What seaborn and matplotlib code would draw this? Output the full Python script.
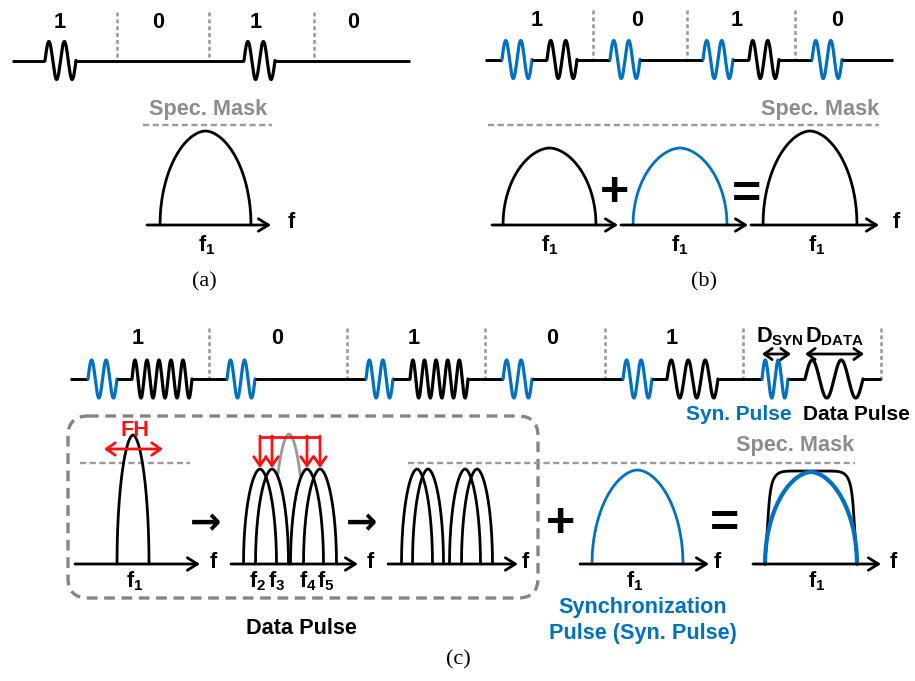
import numpy as np
import matplotlib
matplotlib.use("Agg")
import matplotlib.pyplot as plt
from matplotlib.patches import FancyBboxPatch
import seaborn as sns

sns.set_theme(style="white")
plt.rcParams["font.family"] = ["Liberation Sans", "DejaVu Sans"]
plt.rcParams["mathtext.fontset"] = "custom"
plt.rcParams["mathtext.rm"] = "Liberation Sans:bold"
plt.rcParams["mathtext.it"] = "Liberation Sans:bold"
plt.rcParams["mathtext.bf"] = "Liberation Sans:bold"

BLUE = "#0070C0"
GRAY = "#8C8C8C"
LGRAY = "#9A9A9A"
RED = "#FF1010"
BLACK = "#000000"

# ---------------- data ----------------
bits_a = ["1", "0", "1", "0"]
bits_b = ["1", "0", "1", "0"]
bits_c = ["1", "0", "1", "0", "1"]
syn_cycles = 2                       # cycles in a synchronization pulse
data_cycles_a = 2                    # cycles in an OOK data pulse
data_cycles_c = [5, None, 5, None, 3]  # hopped data pulse cycles per bit (c)
legend_data_cycles = 2
hop_labels = ["$f_2$", "$f_3$", "$f_4$", "$f_5$"]
mask_text = "Spec. Mask"
freq_label = "$f_1$"

# ---------------- drawing helpers ----------------
fig = plt.figure(figsize=(9.15, 6.81), dpi=100)
ax = fig.add_axes([0, 0, 1, 1])
ax.set_xlim(0, 915)
ax.set_ylim(681, 0)
ax.axis("off")

LW = 2.0
FS = 15.6


def seg(xs, ys, color=BLACK, lw=LW, ls="-", **kw):
    ax.plot(xs, ys, color=color, lw=lw, ls=ls, solid_capstyle="butt", **kw)


def curve(x, y, color=BLACK, lw=LW):
    sns.lineplot(x=x, y=y, ax=ax, color=color, lw=lw, estimator=None,
                 sort=False, legend=False)


def pulse(x0, x1, y0, amp, cycles, color):
    x = np.linspace(x0, x1, 300)
    y = y0 - amp * np.sin(2 * np.pi * cycles * (x - x0) / (x1 - x0))
    curve(x, y, color=color, lw=2.3)


def trace(xs, xe, y0, pulses, amp=19):
    cur = xs
    for x0, x1, color, n in pulses:
        seg([cur, x0], [y0, y0], lw=2.1)
        pulse(x0, x1, y0, amp, n, color)
        cur = x1
    seg([cur, xe], [y0, y0], lw=2.1)


def bell(xc, hw, base, h, color=BLACK, lw=LW, clip=None):
    u = np.linspace(-1, 1, 301)
    y = base - h * np.clip(1 - np.abs(u) ** 1.8, 0, None) ** 0.5
    x = xc + hw * u
    if clip is not None:
        m = y <= clip
        x, y = x[m], y[m]
    curve(x, y, color=color, lw=lw)


def flat_bell(xc, hw, base, h, color=BLACK, lw=LW):
    # rounded trapezoid: near-rectangular superellipse with slanted sides
    u = np.linspace(-1, 1, 601)
    v = np.clip(1 - np.abs(u) ** 8, 0, None) ** (1 / 8)
    x = xc + hw * u * (1 - 0.13 * v)
    y = base - h * v
    curve(x, y, color=color, lw=lw)


def arrow(x0, y0, x1, y1, color=BLACK, lw=LW, style="->", hl=0.45, hw=0.28):
    ax.annotate("", xy=(x1, y1), xytext=(x0, y0),
                arrowprops=dict(arrowstyle=f"{style},head_length={hl},head_width={hw}",
                                color=color, lw=lw, shrinkA=0, shrinkB=0,
                                mutation_scale=16))


def txt(x, y, s, size=FS, color=BLACK, weight="bold", ha="center", family=None):
    kw = {}
    if family is not None:
        kw["family"] = family
    ax.text(x, y, s, fontsize=size, color=color, fontweight=weight,
            ha=ha, va="center", **kw)


def faxis(x0, x1, y, fx, fy):
    arrow(x0, y, x1, y)
    txt(fx, fy, "f")


def vsep(x, y0, y1):
    seg([x, x], [y0, y1], color=LGRAY, lw=1.9, ls=(0, (1.5, 1.1)))


def mask_line(x0, x1, y):
    seg([x0, x1], [y, y], color=LGRAY, lw=1.7, ls=(0, (2.6, 1.5)))


def plus(x, y, size=36):
    txt(x, y, "+", size=size)


def equals(x, y, size=36):
    txt(x, y, "=", size=size)


SERIF = ["Liberation Serif", "DejaVu Serif"]

# ================= (a) OOK =================
for x, b in zip([60, 158, 256, 353], bits_a):
    txt(x, 22, b)
for x in [117, 209, 314]:
    vsep(x, 12, 61)
a_slots = [(45, 76), None, (244, 275), None]
pulses_a = [(s[0], s[1], BLACK, data_cycles_a)
            for s, b in zip(a_slots, bits_a) if b == "1"]
trace(12, 410, 60.5, pulses_a)

txt(208, 110, mask_text, color=GRAY)
mask_line(143, 272, 125)
bell(205.5, 45.5, 225, 94)
faxis(147, 271, 225, 291, 223)
txt(207, 245, freq_label)
txt(204, 282, "(a)", size=16, weight="normal", family=SERIF)

# ================= (b) OOK + sync =================
for x, b in zip([537, 637, 737, 837], bits_b):
    txt(x, 20, b)
for x in [593, 687, 795]:
    vsep(x, 10, 60)
syn_x_b = [(502, 532), (610, 640), (703, 733), (812, 842)]
dat_x_b = [(547, 577), None, (749, 779), None]
pulses_b = []
for b, sx, dx in zip(bits_b, syn_x_b, dat_x_b):
    pulses_b.append((sx[0], sx[1], BLUE, syn_cycles))
    if b == "1":
        pulses_b.append((dx[0], dx[1], BLACK, data_cycles_a))
trace(485, 893, 59.5, pulses_b)

txt(879, 109, mask_text, color=GRAY, ha="right")
mask_line(488, 879, 125)
bell(549.5, 46.5, 225, 77)
bell(680, 47, 225, 77, color=BLUE)
bell(810, 47, 225, 94)
arrow(492, 225, 618, 225)
arrow(621, 225, 748, 225)
faxis(751, 879, 225, 896, 223)
plus(615, 193)
equals(746, 196)
for x in [550, 680, 817]:
    txt(x, 245, freq_label)
txt(704, 282, "(b)", size=16, weight="normal", family=SERIF)

# ================= (c) FH-OOK + sync =================
for x, b in zip([138, 277, 414, 552, 672], bits_c):
    txt(x, 339, b)
for x in [209, 347, 485, 605, 743, 881]:
    vsep(x, 328, 381)
syn_x_c = [(88, 117), (227, 255), (366, 393), (503, 532), (623, 652)]
dat_x_c = [(132, 192), None, (410, 468), None, (667, 718)]
pulses_c = []
for b, sx, dx, n in zip(bits_c, syn_x_c, dat_x_c, data_cycles_c):
    pulses_c.append((sx[0], sx[1], BLUE, syn_cycles))
    if b == "1":
        pulses_c.append((dx[0], dx[1], BLACK, n))
# pulse-duration legend slot
pulses_c.append((762, 788, BLUE, syn_cycles))
pulses_c.append((805, 863, BLACK, legend_data_cycles))
trace(70, 881, 379, pulses_c)

txt(780, 337, "$D_{SYN}$")
txt(835, 337, "$D_{DATA}$")
arrow(762, 354, 791, 354, style="<->", lw=2.0, hl=0.35, hw=0.25)
arrow(805, 354, 864, 354, style="<->", lw=2.0, hl=0.35, hw=0.25)
txt(739, 415, "Syn. Pulse", size=15, color=BLUE)
txt(856, 415, "Data Pulse", size=15)

# dashed frame around the data-pulse hopping sequence
box = FancyBboxPatch((68, 416), 470, 182,
                     boxstyle="round,pad=0,rounding_size=20",
                     fill=False, ec="#858585", lw=2.4, ls=(0, (3.2, 2.0)))
ax.add_patch(box)

# single narrow-band data pulse exceeding the mask
txt(135, 430, "FH", color=RED)
arrow(104, 449, 163, 449, color=RED, style="<->", lw=2.0, hl=0.4, hw=0.28)
mask_line(80, 190, 463)
bell(133, 16, 564, 129)
faxis(75, 200, 564, 213, 562)
txt(135, 581, freq_label)
txt(206, 524, "\u2192", size=27, family=["DejaVu Sans"])

# hopped sub-bands
hop_centres = [260, 272, 307, 320]
bell(289, 16, 564, 130, color="#9A9A9A", clip=476)
for xc in hop_centres:
    bell(xc, 16.5, 564, 95)
seg([hop_centres[0], hop_centres[-1]], [437, 437], color=RED, lw=2.0)
for xc in hop_centres:
    arrow(xc, 436, xc, 468, color=RED, lw=2.0, hl=0.4, hw=0.28)
faxis(231, 358, 564, 370, 562)
for x, lab in zip([257, 277, 308, 326], hop_labels):
    txt(x, 581, lab)
txt(362, 524, "\u2192", size=27, family=["DejaVu Sans"])

# resulting spectrum within the mask
for xc in [417, 428, 465, 477]:
    bell(xc, 15.5, 564, 95)
faxis(388, 518, 564, 525, 562)
mask_line(408, 855, 463)
txt(795, 446, mask_text, color=GRAY)

# synchronization pulse spectrum
plus(560, 524)
bell(637.5, 45.5, 564, 94, color=BLUE)
faxis(580, 709, 564, 717, 562)
txt(635, 581, freq_label)
txt(643, 608, "Synchronization", color=BLUE)
txt(643, 633, "Pulse (Syn. Pulse)", color=BLUE)

# combined spectrum
equals(725, 525)
flat_bell(811, 46, 564, 93)
bell(811, 46, 564, 92, color=BLUE, lw=3.0)
faxis(753, 881, 564, 893, 562)
txt(817, 581, freq_label)

txt(301, 628, "Data Pulse")
txt(458, 660, "(c)", size=16, weight="normal", family=SERIF)

fig.savefig("out.png", dpi=100, facecolor="white")
